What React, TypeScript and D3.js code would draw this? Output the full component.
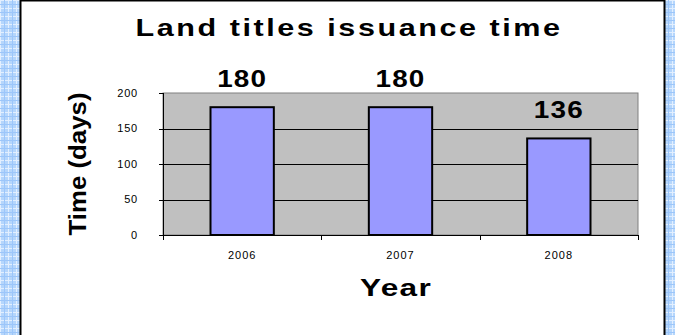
import React from "react";
import * as d3 from "d3";

const years = ["2006", "2007", "2008"];
const days = [180, 180, 136];
const yTicks = [0, 50, 100, 150, 200];
const title = "Land titles issuance time";
const yTitle = "Time (days)";
const xTitle = "Year";

const W = 675;
const H = 335;
const plot = { left: 163, right: 638, top: 93, bottom: 235 };

export default function App() {
  const x = d3
    .scaleBand<string>()
    .domain(years)
    .range([plot.left, plot.right])
    .paddingInner(0.6)
    .paddingOuter(0.3);
  const xBand = d3.scaleBand<string>().domain(years).range([plot.left, plot.right]);
  const y = d3.scaleLinear().domain([0, 200]).range([plot.bottom, plot.top]);
  const font = "'Liberation Sans', Arial, sans-serif";
  const boundaries = [plot.left, ...years.map((yr) => (xBand(yr) as number) + xBand.bandwidth())];

  return (
    <svg
      width={W}
      height={H}
      style={{ position: "absolute", left: 0, top: 0, display: "block" }}
      fontFamily={font}
    >
      <defs>
        <pattern id="check" width="8" height="8" patternUnits="userSpaceOnUse">
          <rect width="8" height="8" fill="#b5d6fc" />
          <rect x="0" y="0" width="1" height="8" fill="#e2efff" />
          <rect x="0" y="0" width="8" height="1" fill="#e2efff" />
          <rect x="4" y="0" width="1" height="8" fill="#9cc6fa" />
          <rect x="0" y="4" width="8" height="1" fill="#9cc6fa" />
        </pattern>
      </defs>
      <rect x={0} y={0} width={W} height={H} fill="url(#check)" />
      <rect x={20.5} y={0.5} width={644} height={H + 5} fill="#ffffff" stroke="#000" strokeWidth={2} />

      <text
        x={349}
        y={36}
        textAnchor="middle"
        fontSize={24}
        fontWeight="bold"
        letterSpacing={2}
        textLength={427}
        lengthAdjust="spacingAndGlyphs"
      >
        {title}
      </text>

      {/* plot area */}
      <rect
        x={plot.left}
        y={plot.top}
        width={plot.right - plot.left}
        height={plot.bottom - plot.top}
        fill="#c0c0c0"
        stroke="#808080"
        strokeWidth={1}
      />
      {yTicks
        .filter((t) => t > 0 && t < 200)
        .map((t) => (
          <line
            key={t}
            x1={plot.left}
            x2={plot.right}
            y1={Math.round(y(t)) + 0.5}
            y2={Math.round(y(t)) + 0.5}
            stroke="#000"
            strokeWidth={1}
          />
        ))}

      {/* bars */}
      {years.map((yr, i) => (
        <rect
          key={yr}
          x={x(yr)}
          y={y(days[i])}
          width={x.bandwidth()}
          height={plot.bottom - y(days[i])}
          fill="#9999ff"
          stroke="#000"
          strokeWidth={2}
        />
      ))}

      {/* data labels */}
      {years.map((yr, i) => (
        <text
          key={yr}
          x={(x(yr) as number) + x.bandwidth() / 2}
          y={y(days[i]) - 20}
          textAnchor="middle"
          fontSize={24}
          fontWeight="bold"
          letterSpacing={1}
          textLength={50}
          lengthAdjust="spacingAndGlyphs"
        >
          {days[i]}
        </text>
      ))}

      {/* y axis */}
      <line x1={plot.left + 0.5} x2={plot.left + 0.5} y1={plot.top} y2={plot.bottom} stroke="#000" />
      {yTicks.map((t) => (
        <g key={t}>
          <line
            x1={plot.left - 4}
            x2={plot.left}
            y1={Math.round(y(t)) + 0.5}
            y2={Math.round(y(t)) + 0.5}
            stroke="#000"
          />
          <text x={138} y={y(t)} dy="0.35em" textAnchor="end" fontSize={11} letterSpacing={0.8}>
            {t}
          </text>
        </g>
      ))}

      {/* x axis */}
      <line x1={plot.left} x2={plot.right} y1={plot.bottom + 0.5} y2={plot.bottom + 0.5} stroke="#000" />
      {boundaries.map((bx, i) => (
        <line
          key={i}
          x1={Math.round(bx) + 0.5}
          x2={Math.round(bx) + 0.5}
          y1={plot.bottom}
          y2={plot.bottom + 5}
          stroke="#000"
        />
      ))}
      {years.map((yr) => (
        <text
          key={yr}
          x={(xBand(yr) as number) + xBand.bandwidth() / 2}
          y={259}
          textAnchor="middle"
          fontSize={11}
          letterSpacing={1}
        >
          {yr}
        </text>
      ))}

      <text
        x={396}
        y={296}
        textAnchor="middle"
        fontSize={24}
        fontWeight="bold"
        letterSpacing={1}
        textLength={72}
        lengthAdjust="spacingAndGlyphs"
      >
        {xTitle}
      </text>

      <text
        transform={`translate(86,164) rotate(-90)`}
        textAnchor="middle"
        fontSize={24}
        fontWeight="bold"
        textLength={143}
        lengthAdjust="spacingAndGlyphs"
      >
        {yTitle}
      </text>
    </svg>
  );
}
